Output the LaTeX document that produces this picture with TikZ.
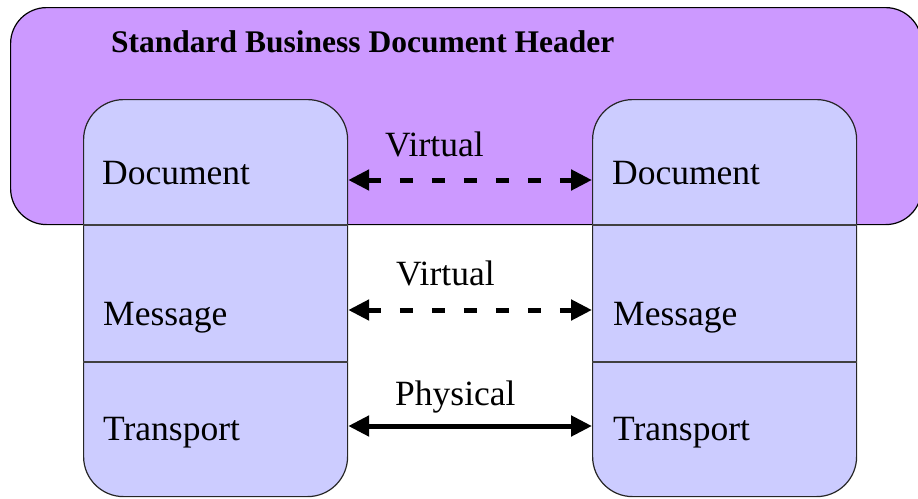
\documentclass[tikz,border=0pt]{standalone}
\usepackage{fontspec}
\setmainfont{Liberation Serif}
\usetikzlibrary{arrows.meta}
\definecolor{hdrpurple}{HTML}{CC99FF}
\definecolor{layerblue}{HTML}{CCCCFF}
\begin{document}
\begin{tikzpicture}[x=1pt,y=-1pt,
  header/.style={draw=black, line width=1.2pt, fill=hdrpurple, rounded corners=36pt,
    minimum width=911pt, minimum height=217pt, anchor=north west, inner sep=0pt},
  column/.style={draw=black!85, line width=1.2pt, fill=layerblue, rounded corners=40pt,
    minimum width=264pt, minimum height=397pt, anchor=north west, inner sep=0pt},
  divider/.style={draw=black!75, line width=1.2pt},
  layer/.style={anchor=base west, font=\fontsize{35.5}{40}\selectfont, inner sep=0pt},
  linklabel/.style={anchor=base west, font=\fontsize{35.5}{40}\selectfont, inner sep=0pt},
  tip/.tip={Triangle[length=21pt,width=20pt]},
  virtuallink/.style={line width=5pt, dash pattern=on 13pt off 19pt, tip-tip},
  physlink/.style={line width=5pt, tip-tip}
]
\useasboundingbox (0,0) rectangle (918,498);

% header band behind the document layer
\node[header] (sbdh) at (10,7) {};
\node[anchor=base west, inner sep=0pt, font=\fontsize{31.5}{36}\selectfont\bfseries]
  (sbdhtitle) at (111,52) {Standard Business Document Header};

% the two protocol stacks
\node[column] (lcol) at (83,99) {};
\node[column] (rcol) at (592,99) {};
\foreach \c in {lcol,rcol}{
  \draw[divider] (\c.west |- 0,225) -- (\c.east |- 0,225);
  \draw[divider] (\c.west |- 0,362) -- (\c.east |- 0,362);
}

% layer names
\node[layer] (ldoc) at (102,184) {Document};
\node[layer] (lmsg) at (103,325) {Message};
\node[layer] (ltrn) at (103,440) {Transport};
\node[layer] (rdoc) at (612,184) {Document};
\node[layer] (rmsg) at (613,325) {Message};
\node[layer] (rtrn) at (613,440) {Transport};

% connector end points on the stack edges
\coordinate (la) at (lcol.east |- 0,180);
\coordinate (ra) at (rcol.west |- 0,180);
\coordinate (lb) at (lcol.east |- 0,310);
\coordinate (rb) at (rcol.west |- 0,310);
\coordinate (lc) at (lcol.east |- 0,426);
\coordinate (rc) at (rcol.west |- 0,426);

\draw[virtuallink] (la) -- (ra);
\draw[virtuallink] (lb) -- (rb);
\draw[physlink] (lc) -- (rc);

\node[linklabel] (v1) at (385,156) {Virtual};
\node[linklabel] (v2) at (396,285) {Virtual};
\node[linklabel] (p1) at (395,405) {Physical};
\end{tikzpicture}
\end{document}
